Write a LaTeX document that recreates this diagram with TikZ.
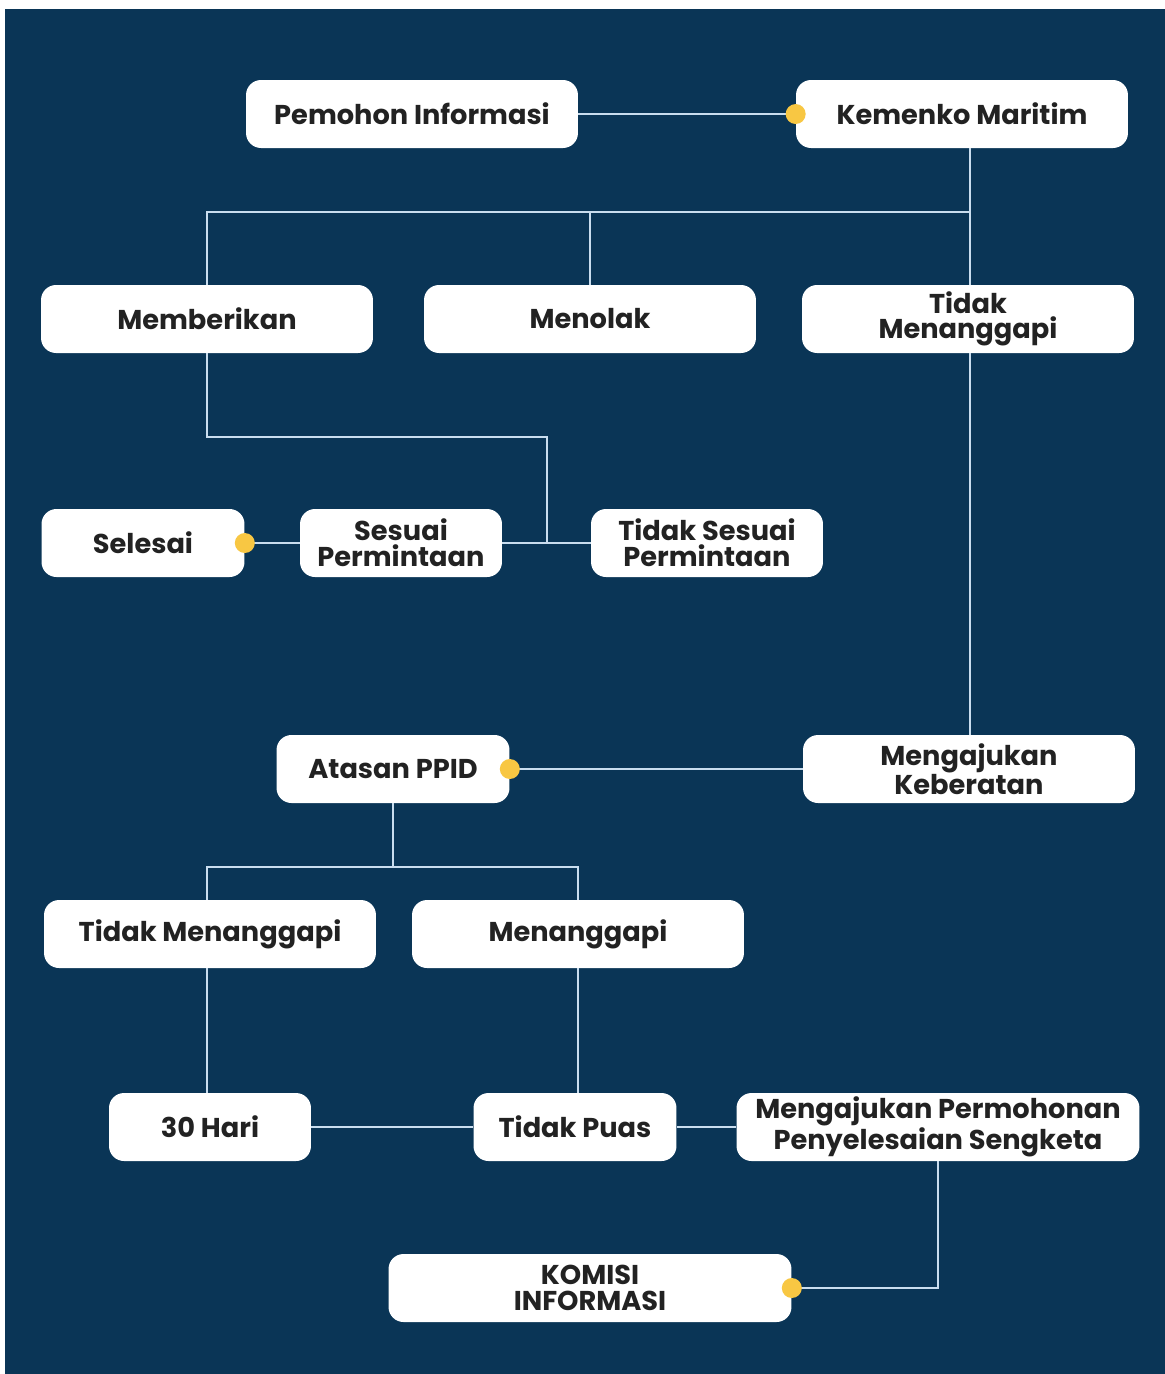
\documentclass[tikz,border=0pt]{standalone}
\usepackage{fontspec}
\setmainfont{Poppins}
\usepackage{tikz}

\definecolor{navy}{HTML}{0A3556}
\definecolor{linkc}{HTML}{C9DDEF}
\definecolor{gold}{HTML}{F8C743}
\definecolor{ink}{HTML}{222222}

\begin{document}
\begin{tikzpicture}[x=0.02cm,y=-0.02cm,
    box/.style={rectangle,rounded corners=0.3cm,fill=white,text=ink,
      minimum width=#1,minimum height=1.36cm,inner sep=0pt,align=center,
      font=\bfseries\fontsize{15.5}{14.6}\selectfont},
    box/.default=6.64cm,
    link/.style={draw=linkc,line width=1.2pt},
    dot/.style={circle,fill=gold,inner sep=0pt,minimum size=0.4cm}]

  % frame
  \useasboundingbox (0,0) rectangle (1165,1374);
  \fill[navy] (5,9) rectangle (1165,1374);

  % boxes
  \node[box] (pemohon) at (412,114) {Pemohon Informasi};
  \node[box] (kemenko) at (962,114) {Kemenko Maritim};

  \node[box] (beri)   at (207,319) {Memberikan};
  \node[box] (tolak)  at (590,319) {Menolak};
  \node[box] (diam)   at (968,319) {Tidak\\Menanggapi};

  \node[box=4.06cm] (selesai) at (143,543) {Selesai};
  \node[box=4.04cm] (sesuai)  at (401,543) {Sesuai\\Permintaan};
  \node[box=4.64cm] (tsesuai) at (707,543) {Tidak Sesuai\\Permintaan};

  \node[box=4.66cm] (atasan) at (393,769) {Atasan PPID};
  \node[box]        (banding) at (969,769) {Mengajukan\\Keberatan};

  \node[box] (diam2)    at (210,934) {Tidak Menanggapi};
  \node[box] (tanggapi) at (578,934) {Menanggapi};

  \node[box=4.04cm] (hari)   at (210,1127) {30 Hari};
  \node[box=4.06cm] (puas)   at (575,1127) {Tidak Puas};
  \node[box=8.06cm] (sengketa) at (938,1127) {Mengajukan Permohonan\\Penyelesaian Sengketa};

  \node[box=8.06cm] (komisi) at (590,1288) {KOMISI\\INFORMASI};

  % helper points
  \coordinate (bar1) at (970,212);
  \coordinate (lvl1) at (0,437);
  \coordinate (jct)  at (547,543);
  \coordinate (bar2l) at (207,867);
  \coordinate (bar2r) at (578,867);

  % connectors
  \draw[link] (pemohon.east) -- (kemenko.west);
  \draw[link] (kemenko.south -| bar1) -- (diam.north -| bar1);
  \draw[link] (beri.north) |- (bar1);
  \draw[link] (tolak.north) -- (tolak.north |- bar1);

  \draw[link] (beri.south) -- (beri.south |- lvl1) -| (jct);
  \draw[link] (selesai.east) -- (sesuai.west);
  \draw[link] (sesuai.east) -- (tsesuai.west);

  \draw[link] (diam.south -| bar1) -- (banding.north -| bar1);
  \draw[link] (banding.west) -- (atasan.east);

  \draw[link] (atasan.south) -- (atasan.south |- bar2l);
  \draw[link] (diam2.north -| bar2l) -- (bar2l) -- (bar2r) -- (tanggapi.north);
  \draw[link] (diam2.south -| bar2l) -- (hari.north -| bar2l);
  \draw[link] (tanggapi.south) -- (puas.north -| tanggapi.south);

  \draw[link] (hari.east) -- (puas.west);
  \draw[link] (puas.east) -- (sengketa.west);
  \draw[link] (sengketa.south) |- (komisi.east);

  % junction dots
  \node[dot] (d1) at (kemenko.west) {};
  \node[dot] (d2) at (selesai.east) {};
  \node[dot] (d3) at (atasan.east) {};
  \node[dot] (d4) at (komisi.east) {};

\end{tikzpicture}
\end{document}
